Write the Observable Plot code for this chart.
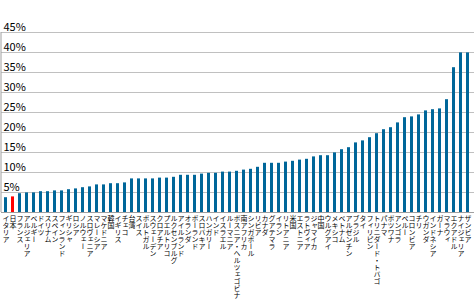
<!DOCTYPE html>
<html>
<head>
<meta charset="utf-8">
<script src="https://cdn.jsdelivr.net/npm/d3@7"></script>
<script src="https://cdn.jsdelivr.net/npm/@observablehq/plot@0.6"></script>
<style>
  html, body { margin: 0; padding: 0; background: #fff; }
</style>
</head>
<body>
<div id="chart"></div>
<script>
const countries = ["イタリア","日本","フランス","アルジェリア","ベルギー","ドイツ","スリナム","スペイン","フィンランド","ギリシャ","ロシア","ノルウェー","スロヴェニア","マレーシア","マケドニア","韓国","イギリス","チェコ","台湾","スイス","ポルトガル","スウェーデン","クロアチア","プエルトリコ","ルクセンブルグ","アイルランド","オランダ","ポーランド","スロバキア","ハンガリー","インド","イスラエル","ルーマニア","ボスニア・ヘルツェゴビナ","南アフリカ","シンガポール","リビア","カナダ","グアテマラ","イラン","リトアニア","米国","エストニア","ラトヴィア","ジャマイカ","中国","ウルグアイ","メキシコ","ベトナム","アルゼンチン","ブラジル","タイ","フィリピン","トリニダード・トバゴ","パナマ","ボツワナ","アンゴラ","ペルー","コロンビア","チリ","ウガンダ","インドネシア","ガーナ","マラウィ","エクアドル","ナイジェリア","ザンビア"];
const values = [3.7,3.9,4.7,4.9,4.9,5.2,5.2,5.4,5.4,5.7,5.9,6.2,6.4,6.9,6.9,7.2,7.2,7.4,8.4,8.4,8.4,8.4,8.6,8.6,8.8,9.3,9.3,9.3,9.6,9.8,9.8,10.1,10.1,10.3,10.6,10.8,11.3,12.3,12.3,12.3,12.6,12.8,13.1,13.3,13.9,14.2,14.2,14.9,15.7,16.2,17.4,17.9,18.7,19.7,20.7,21.2,22.4,23.7,23.9,24.4,25.4,25.7,25.9,28.2,36.2,39.9,39.9];
const highlight = "日本";
const yTicks = [5,10,15,20,25,30,35,40,45];

const data = countries.map((c, i) => ({country: c, value: values[i]}));

const svg = Plot.plot({
  width: 474,
  height: 300,
  marginTop: 32,
  marginBottom: 88,
  marginLeft: 2.5,
  marginRight: 2.5,
  style: {fontFamily: "'Noto Sans CJK JP', 'Noto Sans', sans-serif", fontSize: "11px", background: "#fff", color: "#000"},
  x: {type: "band", domain: countries, paddingInner: 0.55, paddingOuter: 0.275, axis: null},
  y: {domain: [0, 45], axis: null},
  marks: [
    Plot.ruleY(yTicks, {stroke: "#c0c0c0", strokeWidth: 1, insetLeft: -1.5, insetRight: -2.5}),
    Plot.barY(data, {x: "country", y: "value", fill: d => d.country === highlight ? "#ff0000" : "#006699"}),
    Plot.ruleY([0], {stroke: "#a0a0a0", insetLeft: -1.5, insetRight: -2.5}),
    Plot.ruleX([countries[0]], {y1: 0, y2: 45, dx: -5, stroke: "#a0a0a0"}),
    Plot.text(yTicks, {y: d => d, text: d => `${d}%`, frameAnchor: "left", textAnchor: "start", lineAnchor: "bottom", dx: 0.5, dy: -2, fontSize: 11, fill: "#000"}),
    Plot.text(countries, {x: d => d, text: d => d, frameAnchor: "bottom", textAnchor: "start", lineAnchor: "bottom", dy: 2, fontSize: 7, fill: "#000"})
  ]
});

const groups = svg.querySelectorAll('g[aria-label="text"]');
const xg = groups[groups.length - 1];
xg.querySelectorAll("text").forEach(t => {
  t.style.writingMode = "vertical-rl";
  t.style.textOrientation = "mixed";
});
document.getElementById("chart").appendChild(svg);
</script>
</body>
</html>
